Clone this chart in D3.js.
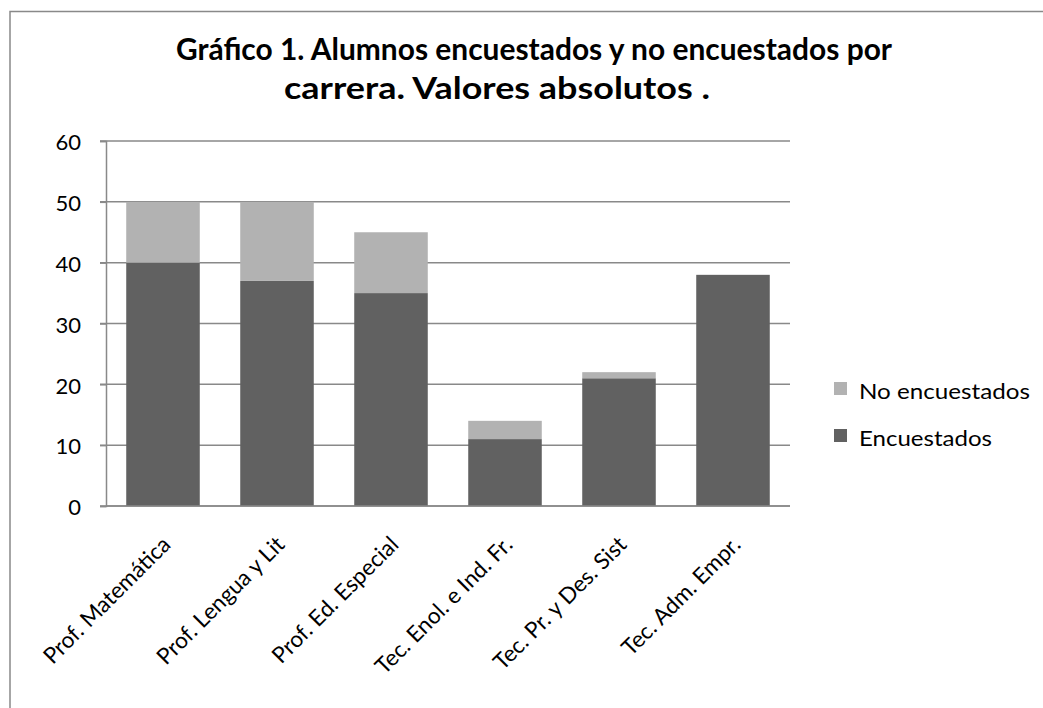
<!DOCTYPE html>
<html>
<head>
<meta charset="utf-8">
<script src="https://cdn.jsdelivr.net/npm/d3@7"></script>
<style>
  body { margin: 0; background: #fff; }
  text { font-family: Lato, "Open Sans", sans-serif; fill: #000; }
</style>
</head>
<body>
<svg id="chart" width="1043" height="708"></svg>
<script>
// data
var carreras = ["Prof. Matemática", "Prof. Lengua y Lit", "Prof. Ed. Especial",
    "Tec. Enol. e Ind. Fr.", "Tec. Pr. y Des. Sist", "Tec. Adm. Empr."];
var encuestados = [40, 37, 35, 11, 21, 38];
var noEncuestados = [10, 13, 10, 3, 1, 0];
var yTicks = [0, 10, 20, 30, 40, 50, 60];
var seriesNames = ["Encuestados", "No encuestados"];
var seriesColors = ["#616161", "#b2b2b2"];
var titleLines = ["Gráfico 1. Alumnos encuestados y no encuestados por",
    "carrera. Valores absolutos ."];

var svg = d3.select("#chart");
var gridColor = "#898989";

// outer chart border (cut by the picture on right and bottom)
svg.append("rect")
    .attr("x", 10).attr("y", 11.5)
    .attr("width", 1100).attr("height", 800)
    .attr("fill", "none")
    .attr("stroke", gridColor)
    .attr("stroke-width", 1.5);

// title, two lines
var titlePos = [[176, 60, 716], [284, 99, 426]];
svg.selectAll(".title")
    .data(titleLines)
    .enter().append("text")
    .attr("class", "title")
    .attr("x", function (d, i) { return titlePos[i][0]; })
    .attr("y", function (d, i) { return titlePos[i][1]; })
    .attr("textLength", function (d, i) { return titlePos[i][2]; })
    .attr("lengthAdjust", "spacingAndGlyphs")
    .attr("font-size", "30px")
    .attr("font-weight", "bold")
    .text(function (d) { return d; });

// scales
var x = d3.scaleBand()
    .domain(carreras)
    .range([106, 790])
    .paddingInner(0.355)
    .paddingOuter(0.1775);
var y = d3.scaleLinear()
    .domain([0, 60])
    .range([506, 141]);

// stacked data
var rows = carreras.map(function (c, i) {
    return { carrera: c, "Encuestados": encuestados[i], "No encuestados": noEncuestados[i] };
});
var stack = d3.stack().keys(seriesNames)(rows);

// gridlines
svg.append("g")
    .selectAll("line")
    .data(yTicks)
    .enter().append("line")
    .attr("x1", 100).attr("x2", 790)
    .attr("y1", function (d) { return y(d); })
    .attr("y2", function (d) { return y(d); })
    .attr("stroke", gridColor)
    .attr("stroke-width", 1.5);

// y axis
var yAxis = svg.append("g")
    .attr("transform", "translate(106,0)")
    .call(d3.axisLeft(y).tickValues(yTicks).tickSize(6).tickPadding(19));
yAxis.select(".domain").attr("stroke", gridColor).attr("stroke-width", 1.5);
yAxis.selectAll(".tick line").attr("stroke", gridColor).attr("stroke-width", 1.5);
yAxis.selectAll(".tick text")
    .attr("font-family", "Lato, 'Open Sans', sans-serif")
    .attr("font-size", "22px")
    .attr("fill", "#000")
    .attr("dy", "0.4em");

// bars
svg.append("g")
    .selectAll("g")
    .data(stack)
    .enter().append("g")
    .attr("fill", function (d, i) { return seriesColors[i]; })
    .selectAll("rect")
    .data(function (d) { return d; })
    .enter().append("rect")
    .attr("x", function (d) { return x(d.data.carrera); })
    .attr("width", x.bandwidth())
    .attr("y", function (d) { return y(d[1]); })
    .attr("height", function (d) { return y(d[0]) - y(d[1]); });

// x axis line
svg.append("line")
    .attr("x1", 106).attr("x2", 790)
    .attr("y1", y(0)).attr("y2", y(0))
    .attr("stroke", gridColor)
    .attr("stroke-width", 1.5);

// rotated category labels
svg.append("g")
    .selectAll("text")
    .data(carreras)
    .enter().append("text")
    .attr("transform", function (d) {
        return "translate(" + (x(d) + x.bandwidth() / 2 + 9) + ",546) rotate(-45)";
    })
    .attr("text-anchor", "end")
    .attr("font-size", "22.5px")
    .text(function (d) { return d; });

// legend: No encuestados on top
var legendItems = [
    { name: "No encuestados", color: seriesColors[1], y: 382, w: 171 },
    { name: "Encuestados", color: seriesColors[0], y: 429, w: 133 }
];
var legend = svg.append("g").selectAll("g")
    .data(legendItems)
    .enter().append("g")
    .attr("transform", function (d) { return "translate(834," + d.y + ")"; });
legend.append("rect")
    .attr("width", 13).attr("height", 13)
    .attr("fill", function (d) { return d.color; });
legend.append("text")
    .attr("x", 25)
    .attr("y", 17)
    .attr("font-size", "22px")
    .attr("textLength", function (d) { return d.w; })
    .attr("lengthAdjust", "spacingAndGlyphs")
    .text(function (d) { return d.name; });
</script>
</body>
</html>
